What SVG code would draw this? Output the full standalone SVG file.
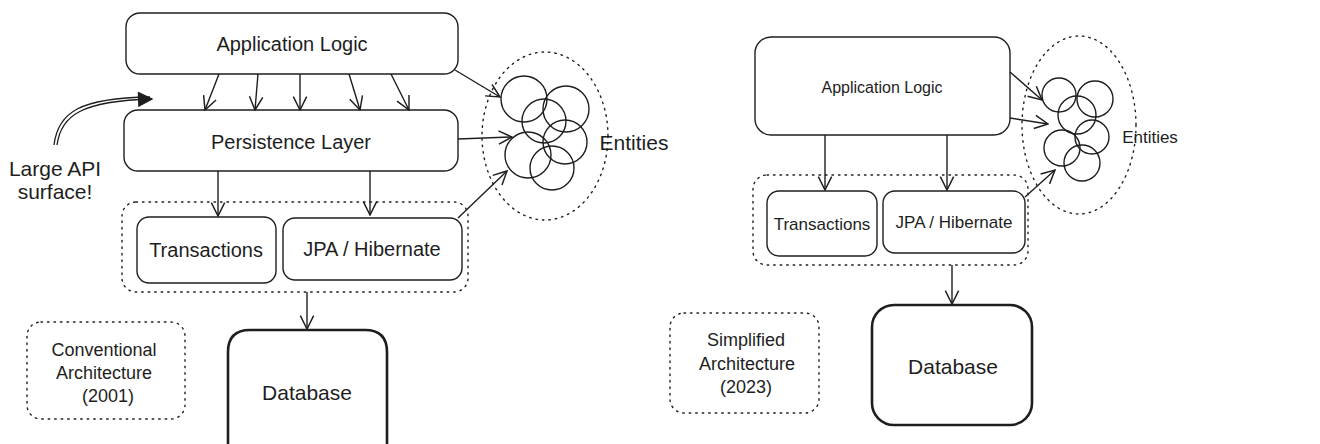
<svg xmlns="http://www.w3.org/2000/svg" width="1320" height="444" viewBox="0 0 1320 444">
<defs>
<style>
.box{fill:#fff;stroke:#1e1e1e;stroke-width:1.4}
.db{fill:#fff;stroke:#1e1e1e;stroke-width:2.6}
.dot{fill:none;stroke:#1e1e1e;stroke-width:1.4;stroke-dasharray:1.5 5;stroke-linecap:round}
.ent{fill:none;stroke:#1e1e1e;stroke-width:1.4}
.conn{fill:none;stroke:#1e1e1e;stroke-width:1.4;marker-end:url(#open)}
.t{font-family:"Liberation Sans","DejaVu Sans",sans-serif;fill:#1e1e1e;text-anchor:middle;dominant-baseline:central}
.xl{font-size:21px}
.l{font-size:20px}
.n{font-size:18px}
.m{font-size:17px}
.s{font-size:16px}
</style>
<marker id="open" viewBox="0 0 12 12" refX="11" refY="6" markerWidth="16" markerHeight="16" markerUnits="userSpaceOnUse" orient="auto">
<path d="M1,1 L11,6 L1,11" fill="none" stroke="#1e1e1e" stroke-width="1.1"/>
</marker>
<marker id="solid" viewBox="0 0 12 12" refX="11" refY="6" markerWidth="16" markerHeight="16" markerUnits="userSpaceOnUse" orient="auto">
<path d="M1,1 L11,6 L1,11 Z" fill="#1e1e1e" stroke="#1e1e1e" stroke-width="1"/>
</marker>
</defs>

<!-- LEFT: Conventional -->
<g id="left-container"><rect class="dot" x="122" y="202" width="346" height="90" rx="14"/></g>
<g id="left-app"><rect class="box" x="126" y="13" width="332" height="61" rx="14"/><text class="t l" x="292" y="44">Application Logic</text></g>
<g id="left-persist"><rect class="box" x="124" y="110" width="334" height="61" rx="14"/><text class="t l" x="291" y="142">Persistence Layer</text></g>
<g id="left-tx"><rect class="box" x="137" y="217" width="139" height="66" rx="12"/><text class="t l" x="206" y="250">Transactions</text></g>
<g id="left-jpa"><rect class="box" x="283" y="218" width="179" height="62" rx="12"/><text class="t l" x="372" y="249">JPA / Hibernate</text></g>
<g id="left-db"><path class="db" d="M250,330 L365,330 Q387,330 387,352 L387,450 L228,450 L228,352 Q228,330 250,330 Z"/><text class="t xl" x="307" y="392">Database</text></g>
<g id="left-label"><rect class="dot" x="27" y="322" width="158" height="97" rx="14"/>
<text class="t n" x="104" y="350">Conventional</text>
<text class="t n" x="104" y="373">Architecture</text>
<text class="t n" x="108" y="396">(2001)</text></g>
<g id="left-api-note"><text class="t xl" x="55" y="168">Large API</text><text class="t xl" x="55" y="191">surface!</text></g>
<g id="left-entities">
<ellipse class="dot" cx="545" cy="136" rx="63" ry="84"/>
<circle class="ent" cx="524" cy="99" r="23"/>
<circle class="ent" cx="566" cy="109" r="23"/>
<circle class="ent" cx="544" cy="121" r="22"/>
<circle class="ent" cx="565" cy="142" r="22"/>
<circle class="ent" cx="528" cy="155" r="23"/>
<circle class="ent" cx="552" cy="168" r="22"/>
<text class="t xl" x="634" y="142">Entities</text>
</g>

<!-- RIGHT: Simplified -->
<g id="right-container"><rect class="dot" x="753" y="175" width="275" height="90" rx="14"/></g>
<g id="right-app"><rect class="box" x="755" y="37" width="255" height="98" rx="16"/><text class="t s" x="882" y="87">Application Logic</text></g>
<g id="right-tx"><rect class="box" x="767" y="191" width="110" height="65" rx="12"/><text class="t m" x="822" y="224">Transactions</text></g>
<g id="right-jpa"><rect class="box" x="883" y="191" width="142" height="62" rx="12"/><text class="t m" x="954" y="222">JPA / Hibernate</text></g>
<g id="right-db"><rect class="db" x="872" y="305" width="160" height="120" rx="22"/><text class="t xl" x="953" y="366">Database</text></g>
<g id="right-label"><rect class="dot" x="670" y="313" width="149" height="100" rx="14"/>
<text class="t n" x="746" y="340">Simplified</text>
<text class="t n" x="747" y="364">Architecture</text>
<text class="t n" x="746" y="387">(2023)</text></g>
<g id="right-entities">
<ellipse class="dot" cx="1079" cy="125" rx="57" ry="89"/>
<circle class="ent" cx="1059" cy="95" r="17"/>
<circle class="ent" cx="1095" cy="99" r="18"/>
<circle class="ent" cx="1077" cy="115" r="19"/>
<circle class="ent" cx="1092" cy="137" r="17"/>
<circle class="ent" cx="1062" cy="148" r="18"/>
<circle class="ent" cx="1082" cy="163" r="18"/>
<text class="t m" x="1150" y="137">Entities</text>
</g>

<!-- CONNECTORS -->
<g id="connectors">
<line class="conn" x1="219" y1="74" x2="205" y2="110"/>
<line class="conn" x1="258" y1="74" x2="255" y2="110"/>
<line class="conn" x1="300" y1="74" x2="300" y2="110"/>
<line class="conn" x1="349" y1="74" x2="360" y2="110"/>
<line class="conn" x1="391" y1="74" x2="409" y2="110"/>
<line class="conn" x1="218" y1="171" x2="218" y2="216"/>
<line class="conn" x1="370" y1="171" x2="370" y2="215"/>
<line class="conn" x1="307" y1="292" x2="307" y2="329"/>
<line class="conn" x1="455" y1="70" x2="500" y2="97"/>
<line class="conn" x1="458" y1="139" x2="512" y2="137"/>
<line class="conn" x1="458" y1="218" x2="507" y2="171"/>
<path d="M54,145 C58,112 80,98 150,97" fill="none" stroke="#1e1e1e" stroke-width="1.3"/>
<path d="M57,145 C61,115 82,101 152,99" fill="none" stroke="#1e1e1e" stroke-width="1.3" marker-end="url(#solid)"/>
<line class="conn" x1="825" y1="135" x2="825" y2="190"/>
<line class="conn" x1="947" y1="135" x2="947" y2="190"/>
<line class="conn" x1="952" y1="265" x2="952" y2="304"/>
<line class="conn" x1="1010" y1="72" x2="1042" y2="100"/>
<line class="conn" x1="1010" y1="118" x2="1048" y2="124"/>
<line class="conn" x1="1025" y1="197" x2="1055" y2="170"/>
</g>
</svg>
